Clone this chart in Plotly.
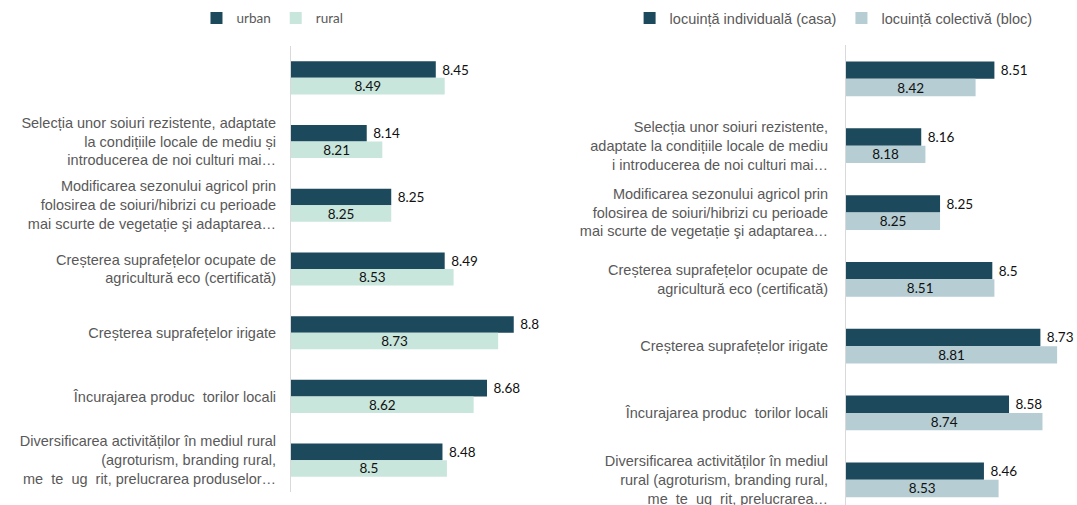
import plotly.graph_objects as go

# left panel: mediu de rezidenta
cat_left = [
    " ",
    "Selecția unor soiuri rezistente, adaptate<br>la condițiile locale de mediu și<br>introducerea de noi culturi mai…",
    "Modificarea sezonului agricol prin<br>folosirea de soiuri/hibrizi cu perioade<br>mai scurte de vegetație şi adaptarea…",
    "Creșterea suprafețelor ocupate de<br>agricultură eco (certificată)",
    "Creșterea suprafețelor irigate",
    "Încurajarea produc  torilor locali",
    "Diversificarea activităților în mediul rural<br>(agroturism, branding rural,<br>me  te  ug  rit, prelucrarea produselor…",
]
urban = [8.45, 8.14, 8.25, 8.49, 8.8, 8.68, 8.48]
rural = [8.49, 8.21, 8.25, 8.53, 8.73, 8.62, 8.5]

# right panel: tip locuinta
cat_right = [
    " ",
    "Selecția unor soiuri rezistente,<br>adaptate la condițiile locale de mediu<br>i introducerea de noi culturi mai…",
    "Modificarea sezonului agricol prin<br>folosirea de soiuri/hibrizi cu perioade<br>mai scurte de vegetație şi adaptarea…",
    "Creșterea suprafețelor ocupate de<br>agricultură eco (certificată)",
    "Creșterea suprafețelor irigate",
    "Încurajarea produc  torilor locali",
    "Diversificarea activităților în mediul<br>rural (agroturism, branding rural,<br>me  te  ug  rit, prelucrarea…",
]
casa = [8.51, 8.16, 8.25, 8.5, 8.73, 8.58, 8.46]
bloc = [8.42, 8.18, 8.25, 8.51, 8.81, 8.74, 8.53]

AXIS_MIN = 7.8   # bars start where the value axis starts

DARK = "#1c4a5c"
MINT = "#c8e6dc"
GREYBLUE = "#b5cdd3"
LBL = "#595959"
VAL_FONT = dict(family="Lato, Open Sans, sans-serif", size=13.5, color="#111111")
NB = "\u00a0"


def bar(cats, vals, name, color, outside, xa, ya, leg):
    return go.Bar(
        y=cats, x=[v - AXIS_MIN for v in vals], base=AXIS_MIN,
        orientation="h", name=name, marker_color=color,
        text=[(NB + str(v)) if outside else str(v) for v in vals],
        textposition="outside" if outside else "inside",
        insidetextanchor="middle", textfont=VAL_FONT, cliponaxis=False,
        xaxis=xa, yaxis=ya, legend=leg, marker_line_width=0,
        constraintext="none",
    )


fig = go.Figure()
fig.add_trace(bar(cat_left, urban, "urban", DARK, True, "x", "y", "legend"))
fig.add_trace(bar(cat_left, rural, "rural", MINT, False, "x", "y", "legend"))
fig.add_trace(bar(cat_right, casa, "locuință individuală (casa)", DARK, True,
                  "x2", "y2", "legend2"))
fig.add_trace(bar(cat_right, bloc, "locuință colectivă (bloc)", GREYBLUE, False,
                  "x2", "y2", "legend2"))

label_font = dict(family="Liberation Sans, Arial, sans-serif", size=14.5, color=LBL)

fig.update_layout(
    width=1077, height=505,
    margin=dict(l=0, r=0, t=0, b=0, autoexpand=False),
    paper_bgcolor="white", plot_bgcolor="white",
    barmode="group", bargap=0.48, bargroupgap=0,
    uniformtext=dict(minsize=6, mode="show"),
    xaxis=dict(domain=[0.2702, 0.4977], range=[AXIS_MIN, 8.9], visible=False,
               automargin=False),
    yaxis=dict(domain=[0.0257, 0.909], range=[6.5, -0.5], anchor="x",
               showline=True, linecolor="#d9d9d9", linewidth=1,
               ticks="", ticklabelstandoff=11, tickfont=label_font,
               showgrid=False, zeroline=False, automargin=False),
    xaxis2=dict(domain=[0.7855, 0.999], range=[AXIS_MIN, 8.9], visible=False,
                anchor="y2", automargin=False),
    yaxis2=dict(domain=[0.0, 0.91], range=[6.377, -0.5], anchor="x2",
                showline=True, linecolor="#d9d9d9", linewidth=1,
                ticks="", ticklabelstandoff=14, tickfont=label_font,
                showgrid=False, zeroline=False, automargin=False),
    legend=dict(orientation="h", x=0.253, y=0.964, xanchor="center",
                yanchor="middle", font=dict(family="Lato, sans-serif",
                                            size=13.5, color=LBL),
                itemwidth=30, bgcolor="rgba(0,0,0,0)"),
    legend2=dict(orientation="h", x=0.774, y=0.964, xanchor="center",
                 yanchor="middle", font=dict(family="Liberation Sans, Arial",
                                             size=14.5, color=LBL),
                 itemwidth=30, bgcolor="rgba(0,0,0,0)"),
    showlegend=True,
)

# the page body has a default 8px margin; drop it so the figure sits at 0,0
fig.write_html("out.html", config={"displayModeBar": False},
               post_script="document.body.style.margin='0';")
